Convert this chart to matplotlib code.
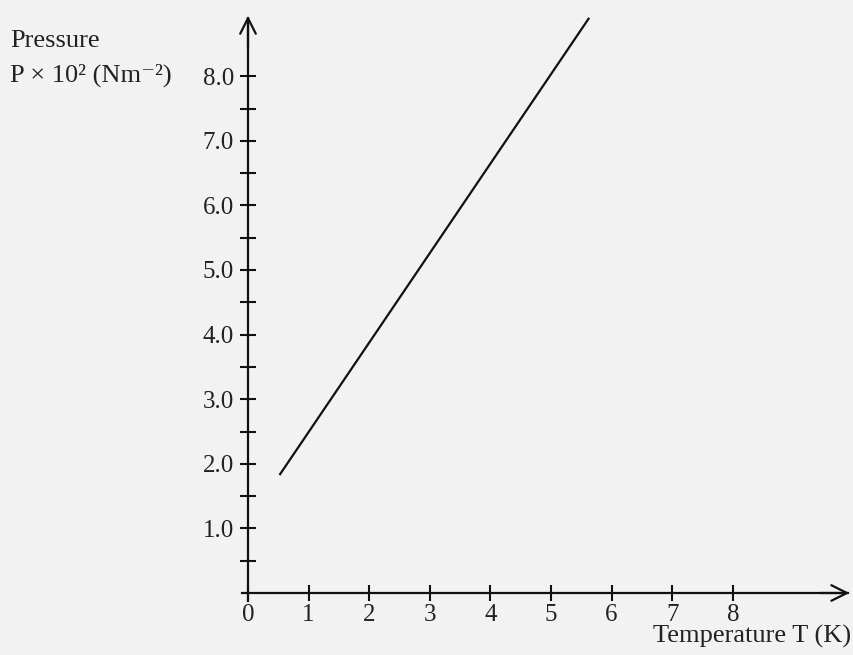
import numpy as np
import matplotlib
matplotlib.use("Agg")
import matplotlib.pyplot as plt
from matplotlib.ticker import FixedLocator

# line (end points)
temp = [0.53, 5.62]
pressure = [1.84, 8.89]

x_ticks = [0, 1, 2, 3, 4, 5, 6, 7, 8]
y_ticks = [1.0, 2.0, 3.0, 4.0, 5.0, 6.0, 7.0, 8.0]
y_minor = [0.5, 1.5, 2.5, 3.5, 4.5, 5.5, 6.5, 7.5]
y_labels = ['1.0', '2.0', '3.0', '4.0', '5.0', '6.0', '7.0', '8.0']

W, H = 854, 655
plt.rcParams['font.family'] = ['Liberation Serif', 'DejaVu Serif']

fig = plt.figure(figsize=(W / 100, H / 100), dpi=100)
fig.patch.set_facecolor('#f2f2f2')
ax = fig.add_axes([0, 0, 1, 1])
ax.set_facecolor('none')

# origin at pixel (248, 593), 60.6 px per K, 64.6 px per unit of P
px_x, px_y = 60.6, 64.6
ax.set_xlim(-248 / px_x, (W - 248) / px_x)
ax.set_ylim(-(H - 593) / px_y, 593 / px_y)

ax.plot(temp, pressure, color='#111111', lw=1.6)

for s in ['top', 'right']:
    ax.spines[s].set_visible(False)
ax.spines['left'].set_position(('data', 0))
ax.spines['bottom'].set_position(('data', 0))
ax.spines['left'].set_bounds(-0.12, 8.9)
ax.spines['bottom'].set_bounds(-0.1, 9.9)
for s in ['left', 'bottom']:
    ax.spines[s].set_linewidth(1.6)
    ax.spines[s].set_color('#111111')

# open arrow heads
ax.annotate('', xy=(0, 8.98), xytext=(0, 8.4),
            arrowprops=dict(arrowstyle='->', lw=1.6, color='#111111', mutation_scale=28))
ax.annotate('', xy=(9.97, 0), xytext=(9.4, 0),
            arrowprops=dict(arrowstyle='->', lw=1.6, color='#111111', mutation_scale=28))

ax.set_yticks(y_ticks)
ax.set_yticklabels(y_labels)
ax.yaxis.set_minor_locator(FixedLocator(y_minor))
ax.set_xticks(x_ticks)
ax.set_xticklabels([str(t) for t in x_ticks])
ax.xaxis.set_minor_locator(FixedLocator([]))

ax.tick_params(axis='both', which='both', direction='inout', length=12,
               width=1.5, color='#111111', labelsize=18, labelcolor='#222222')
ax.tick_params(axis='y', which='both', pad=4)
ax.tick_params(axis='x', which='both', pad=2)

# axis titles
fig.text(10 / W, 1 - 47 / H, 'Pressure', fontsize=19, color='#222222', ha='left', va='baseline')
fig.text(10 / W, 1 - 82 / H, 'P \u00d7 10\u00b2 (Nm\u207b\u00b2)', fontsize=19, color='#222222',
         ha='left', va='baseline')
fig.text(851 / W, 1 - 643 / H, 'Temperature T (K)', fontsize=19, color='#222222',
         ha='right', va='baseline')

fig.savefig('out.png', dpi=100, facecolor=fig.get_facecolor())
